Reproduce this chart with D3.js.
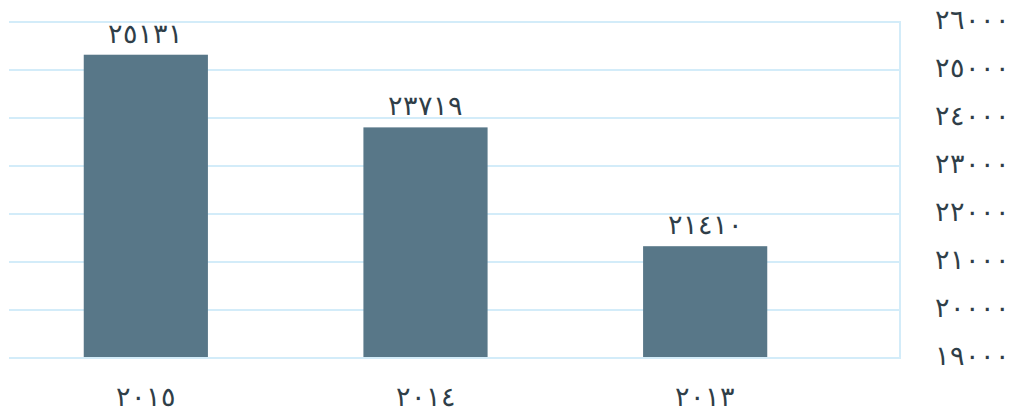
<!DOCTYPE html>
<html><head><meta charset="utf-8">
<script src="https://cdn.jsdelivr.net/npm/d3@7"></script>
<style>body{margin:0;background:#fff}svg{display:block}</style>
</head><body>
<svg id="c" width="1014" height="411"></svg>
<script>
const categories = ["2015", "2014", "2013"];
const values = [25131, 23719, 21410];
const tickValues = [19000, 20000, 21000, 22000, 23000, 24000, 25000, 26000];

const toAr = s => String(s).replace(/[0-9]/g, d => "٠١٢٣٤٥٦٧٨٩"[+d]);

const svg = d3.select("#c");
const font = "'DejaVu Sans', sans-serif";
const textColor = "#2f3e48";
const gridColor = "#d3ecf9";
const barColor = "#587788";

const x = d3.scaleBand().domain(categories).range([6, 845]).paddingInner(0.556).paddingOuter(0.278);
const y = d3.scaleLinear().domain([19000, 26000]).range([358, 22]);
const yBar = d3.scaleLinear().domain([19257, 26000]).range([357, 10]);

// grid
svg.append("g").selectAll("line").data(tickValues).join("line")
  .attr("x1", 9).attr("x2", 900)
  .attr("y1", d => y(d)).attr("y2", d => y(d))
  .attr("stroke", gridColor).attr("stroke-width", 2);
svg.append("line").attr("x1", 900).attr("x2", 900).attr("y1", y(26000) - 1).attr("y2", y(19000) + 1)
  .attr("stroke", gridColor).attr("stroke-width", 2);

const fs = "27px", fw = 200;

// y axis labels
const yAxis = d3.axisRight(y).tickValues(tickValues).tickSize(0).tickPadding(0).tickFormat(d => toAr(d));
const ga = svg.append("g").attr("transform", "translate(1010,-2)").call(yAxis);
ga.select(".domain").remove();
ga.selectAll("text").attr("text-anchor", "end").attr("x", 0)
  .style("font-family", font).style("font-size", fs).style("font-weight", fw).attr("fill", textColor);

// bars
svg.append("g").selectAll("rect").data(values).join("rect")
  .attr("x", (d, i) => x(categories[i])).attr("width", x.bandwidth())
  .attr("y", d => yBar(d)).attr("height", d => yBar.range()[0] - yBar(d))
  .attr("fill", barColor);

// value labels
svg.append("g").selectAll("text").data(values).join("text")
  .attr("x", (d, i) => x(categories[i]) + x.bandwidth() / 2)
  .attr("y", d => yBar(d) - 12)
  .attr("text-anchor", "middle")
  .style("font-family", font).style("font-size", fs).style("font-weight", fw).attr("fill", textColor)
  .text(d => toAr(d));

// x axis labels
const xAxis = d3.axisBottom(x).tickSize(0).tickPadding(0).tickFormat(d => toAr(d));
const gx = svg.append("g").attr("transform", "translate(0,387)").call(xAxis);
gx.select(".domain").remove();
gx.selectAll("text").style("font-family", font).style("font-size", fs).style("font-weight", fw).attr("fill", textColor);
</script>
</body></html>
